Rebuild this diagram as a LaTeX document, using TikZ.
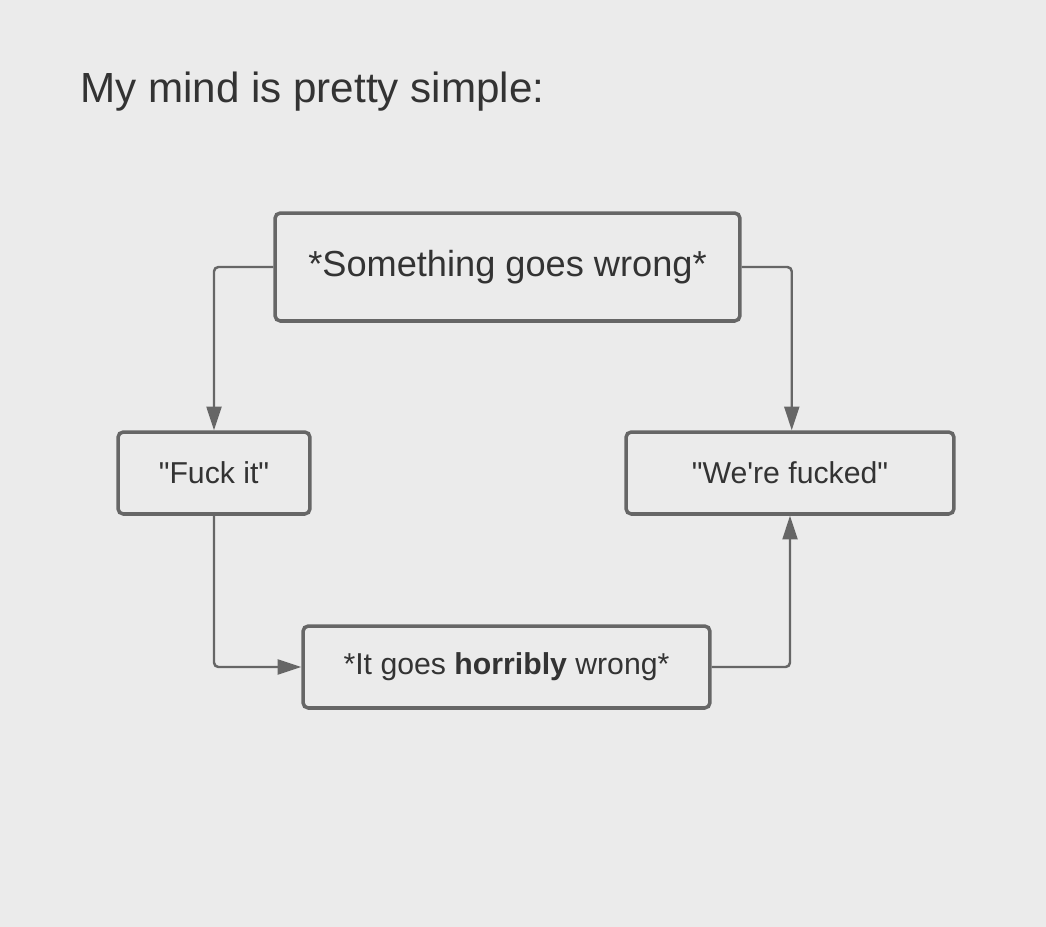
\documentclass[tikz,border=0pt]{standalone}
\usepackage{fontspec}
\setmainfont{Liberation Sans}
\usetikzlibrary{arrows.meta}

\definecolor{bgcol}{HTML}{EBEBEB}
\definecolor{boxcol}{HTML}{666666}
\definecolor{txtcol}{HTML}{333333}

\newcommand{\dq}{\textquotedbl}
\newcommand{\sq}{\textquotesingle}

\tikzset{
    stepbox/.style={draw=boxcol, line width=2pt, rounded corners=3pt,
        text=txtcol, inner sep=0pt, font=\fontsize{17.2pt}{20pt}\selectfont},
    link/.style={draw=boxcol, line width=1.4pt, rounded corners=2.5pt,
        -{Triangle[length=13.5pt, width=8.5pt]}}
}

\begin{document}
\begin{tikzpicture}
    [x=0.02cm, y=-0.02cm]
    \fill[bgcol] (0,0) rectangle (1046,927);
    \useasboundingbox (0,0) rectangle (1046,927);

    \node[anchor=base west, text=txtcol, inner sep=0pt,
        font=\fontsize{24pt}{28pt}\selectfont] (title) at (80,102)
        {My mind is pretty simple:};

    \node[stepbox, minimum width=9.3cm, minimum height=2.16cm,
        font=\fontsize{20.6pt}{24pt}\selectfont] (wrong) at (507.5,267)
        {*Something goes wrong*};
    \node[stepbox, minimum width=3.84cm, minimum height=1.64cm] (fuckit) at (214,473)
        {\dq Fuck it\dq};
    \node[stepbox, minimum width=6.56cm, minimum height=1.64cm] (fucked) at (790,473)
        {\dq We\sq re fucked\dq};
    \node[stepbox, minimum width=8.14cm, minimum height=1.64cm] (horribly) at (506.5,667)
        {*It goes \textbf{horribly} wrong*};

    \draw[link] (wrong.west) -| (fuckit.north);
    \draw[link] ([yshift=0pt]wrong.east) -| ([xshift=1pt]fucked.north);
    \draw[link] (fuckit.south) |- (horribly.west);
    \draw[link] (horribly.east) -| (fucked.south);
\end{tikzpicture}
\end{document}
